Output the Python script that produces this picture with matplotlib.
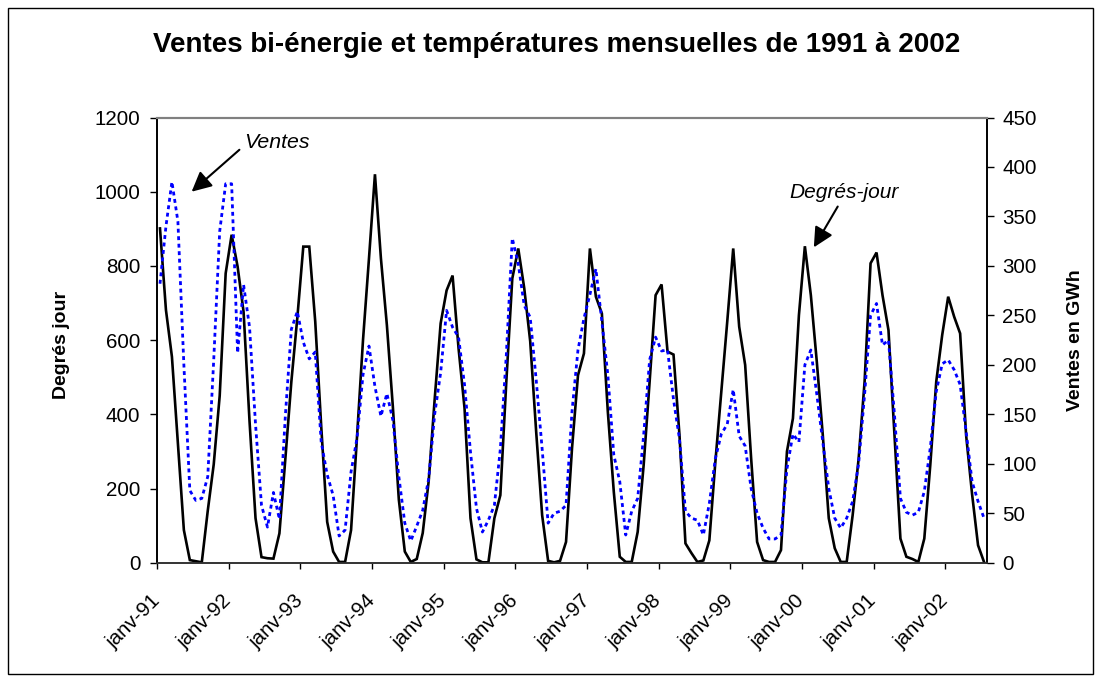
import matplotlib
matplotlib.use("Agg")
import matplotlib.pyplot as plt
import numpy as np
from matplotlib.transforms import ScaledTranslation
from matplotlib.patches import Rectangle

plt.rcParams['font.family'] = ['Liberation Sans', 'DejaVu Sans']

# ---- data ----
years = ["91", "92", "93", "94", "95", "96", "97", "98", "99", "00", "01", "02"]
tick_labels = ["janv-" + y for y in years]

degres_jour = [
    901, 681, 555, 320, 88, 7, 4, 1, 140, 265, 450, 780,        # 1991
    884, 798, 676, 380, 120, 15, 12, 11, 79, 281, 488, 660,     # 1992
    852, 852, 650, 368, 110, 30, 2, 2, 88, 340, 600, 820,       # 1993
    1047, 820, 640, 420, 170, 30, 2, 10, 80, 220, 440, 645,     # 1994
    734, 774, 578, 417, 120, 9, 1, 1, 120, 182, 488, 766,       # 1995
    847, 740, 597, 353, 128, 5, 1, 5, 56, 308, 505, 564,        # 1996
    847, 717, 672, 407, 191, 16, 2, 2, 83, 263, 488, 721,       # 1997
    750, 569, 561, 344, 52, 26, 2, 6, 60, 270, 460, 650,        # 1998
    847, 636, 533, 281, 56, 7, 2, 2, 34, 300, 389, 667,         # 1999
    853, 721, 541, 344, 120, 39, 2, 2, 128, 280, 488, 807,      # 2000
    836, 721, 627, 344, 65, 16, 10, 2, 65, 263, 488, 614,       # 2001
    717, 663, 618, 344, 185, 47, 2,                             # 2002
]

ventes = [
    282, 340, 385, 345, 200, 73, 63, 65, 87, 205, 335, 383,     # 1991
    383, 212, 281, 238, 140, 58, 36, 71, 44, 149, 236, 254,     # 1992
    223, 206, 213, 122, 89, 68, 27, 33, 92, 126, 190, 219,      # 1993
    178, 148, 171, 144, 87, 40, 22, 37, 53, 85, 150, 192,       # 1994
    255, 238, 228, 180, 112, 55, 31, 43, 58, 115, 210, 328,     # 1995
    302, 260, 248, 185, 115, 40, 50, 52, 58, 153, 215, 247,     # 1996
    271, 297, 244, 190, 109, 82, 28, 52, 65, 129, 205, 228,     # 1997
    214, 215, 165, 125, 52, 45, 43, 28, 60, 105, 130, 140,      # 1998
    175, 128, 118, 75, 50, 35, 24, 24, 28, 95, 130, 122,        # 1999
    200, 215, 170, 122, 75, 45, 35, 45, 62, 100, 170, 250,      # 2000
    262, 220, 225, 150, 65, 51, 48, 51, 72, 116, 173, 201,      # 2001
    205, 195, 180, 133, 82, 62, 45,                             # 2002
]

n = len(degres_jour)
x = np.arange(n)

W, H = 1101, 682
fig = plt.figure(figsize=(W / 100, H / 100), dpi=100)
fig.patch.set_facecolor('white')

ax = fig.add_axes([157 / W, 1 - 562.7 / H, (987 - 157) / W, (562.7 - 117.5) / H])
ax2 = ax.twinx()

ax.plot(x, degres_jour, color='black', lw=1.9, solid_joinstyle='miter', zorder=3)
ax2.plot(x, ventes, color='#0000FF', lw=2.0, dashes=(1.4, 1.3),
         dash_capstyle='butt', zorder=4)

ax.set_xlim(-0.5, n - 0.5)
ax.set_ylim(0, 1200)
ax2.set_ylim(0, 450)
ax.set_yticks(np.arange(0, 1201, 200))
ax2.set_yticks(np.arange(0, 451, 50))

FS = 14.8
ax.set_xticks(np.arange(len(tick_labels)) * 12 - 0.5)
ax.set_xticklabels(tick_labels, rotation=45, ha='right', va='center',
                   rotation_mode='anchor', fontsize=FS)
for lab in ax.get_xticklabels():
    lab.set_transform(lab.get_transform() + ScaledTranslation(-10 / 100, 0, fig.dpi_scale_trans))

ax.tick_params(axis='x', direction='out', length=4, width=1, pad=21)
ax.tick_params(axis='y', direction='out', length=5, width=1, pad=7, labelsize=FS)
ax2.tick_params(axis='y', direction='out', length=5, width=1, pad=6, labelsize=FS)

for a in (ax, ax2):
    a.spines['top'].set_color('#808080')
    a.spines['top'].set_linewidth(1.5)
    a.spines['left'].set_linewidth(1.2)
    a.spines['right'].set_linewidth(1.2)
    a.spines['bottom'].set_linewidth(1.2)
    a.spines['bottom'].set_color('#333333')

fig.text(557 / W, 1 - 45 / H, "Ventes bi-énergie et températures mensuelles de 1991 à 2002",
         ha='center', va='center', fontsize=20, fontweight='bold')
fig.text(61 / W, 1 - 345 / H, "Degrés jour", rotation=90, ha='center', va='center',
         fontsize=14, fontweight='bold')
fig.text(1075 / W, 1 - 340 / H, "Ventes en GWh", rotation=90, ha='center', va='center',
         fontsize=14, fontweight='bold')

# annotations (in left-axis data coordinates)
arrow = dict(arrowstyle='-|>', mutation_scale=30, lw=1.5, color='black',
             shrinkA=0, shrinkB=0)
ax.annotate("", xy=(5.3, 1000), xytext=(13.3, 1113), arrowprops=arrow)
ax.text(19.6, 1133, "Ventes", fontsize=15.3, style='italic', ha='center', va='center')
ax.annotate("", xy=(109.5, 850), xytext=(113.5, 960), arrowprops=arrow)
ax.text(114.6, 998, "Degrés-jour", fontsize=15, style='italic', ha='center', va='center')

# outer frame
fig.patches.append(Rectangle((8 / W, 8 / H), (1093 - 8) / W, (674 - 8) / H,
                             transform=fig.transFigure, fill=False,
                             edgecolor='black', lw=1.0))

fig.savefig("out.png", dpi=100)
